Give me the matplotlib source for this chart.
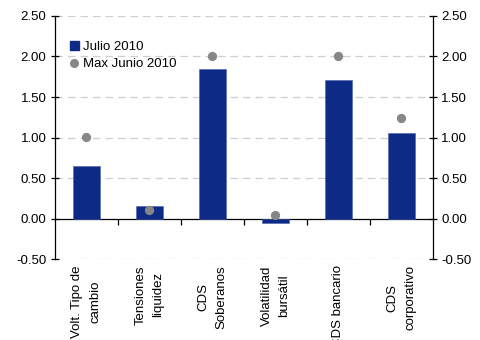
import matplotlib
matplotlib.use("Agg")
import matplotlib.pyplot as plt
import matplotlib.transforms as mtransforms
from matplotlib.lines import Line2D
from matplotlib.patches import Patch

plt.rcParams['font.family'] = ['Liberation Sans', 'DejaVu Sans']

# datos
categorias = ["Volt. Tipo de\ncambio", "Tensiones\nliquidez", "CDS\nSoberanos",
              "Volatilidad\nbursátil", "CDS bancario", "CDS\ncorporativo"]
julio_2010 = [0.65, 0.16, 1.84, -0.05, 1.71, 1.05]
max_junio_2010 = [1.01, 0.10, 2.01, 0.05, 2.00, 1.24]

azul = "#0E2A87"
gris = "#878787"
fs = 9.5

fig = plt.figure(figsize=(4.81, 3.40), dpi=100)
ax = fig.add_axes([0.114, 0.238, 0.786, 0.715])

x = list(range(len(categorias)))
ax.bar(x, julio_2010, width=0.43, color=azul, edgecolor="#4A5FA8", linewidth=0.4, zorder=3)
ax.scatter(x, max_junio_2010, s=32, color=gris, zorder=4)

ax.set_xlim(-0.5, len(categorias) - 0.5)
ax.set_ylim(-0.5, 2.5)
yt = [-0.5, 0, 0.5, 1.0, 1.5, 2.0, 2.5]
ax.set_yticks(yt)
ax.set_yticklabels([f"{v:.2f}" for v in yt])
for v in yt:
    if v != 0:
        ax.axhline(v, color="#CFCFCF", lw=0.9, ls=(0, (6, 4)), zorder=1)

ax.spines['top'].set_visible(False)
ax.spines['bottom'].set_position(('data', 0))
ax.spines['bottom'].set_linewidth(0.9)
ax.spines['left'].set_linewidth(0.9)
ax.spines['right'].set_linewidth(0.9)

ax.tick_params(axis='y', which='both', direction='inout', length=6, width=0.9,
               labelsize=fs, right=True, labelright=True, pad=3)
ax.set_xticks([i + 0.5 for i in x[:-1]])
ax.set_xticklabels([])
ax.tick_params(axis='x', direction='out', length=4, width=0.9)

trans = mtransforms.blended_transform_factory(ax.transData, ax.transAxes)
for i, lab in enumerate(categorias):
    ax.text(i, -0.025, lab, transform=trans, rotation=90, ha='center', va='top',
            multialignment='center', fontsize=fs, linespacing=1.65)

handles = [Patch(facecolor=azul, edgecolor=azul, label="Julio 2010"),
           Line2D([], [], marker='o', color='none', markerfacecolor=gris,
                  markeredgecolor=gris, markersize=5.5, label="Max Junio 2010")]
leg = ax.legend(handles=handles, loc='upper left', bbox_to_anchor=(0.025, 0.92),
                frameon=False, fontsize=fs, handlelength=0.7, handleheight=0.7,
                handletextpad=0.3, labelspacing=0.4, borderaxespad=0)

fig.savefig("out.png", dpi=100)
